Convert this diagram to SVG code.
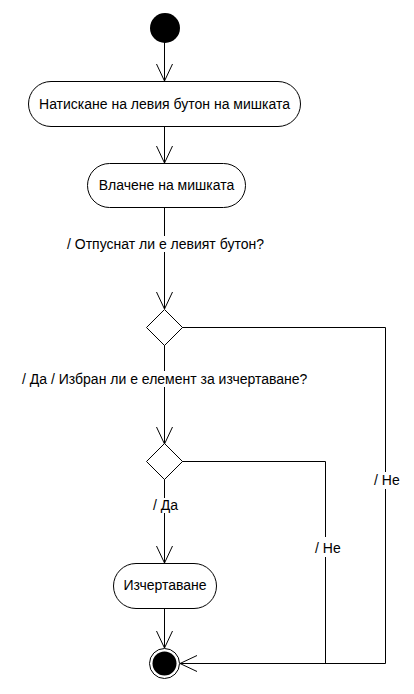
<svg xmlns="http://www.w3.org/2000/svg" width="414" height="694" viewBox="0 0 414 694">
<style>
.act{fill:#fff;stroke:#000;stroke-width:1}
.dec{fill:#fff;stroke:#000;stroke-width:1}
.ln{fill:none;stroke:#000;stroke-width:1}
text{font-family:"Liberation Sans",Arial,sans-serif;font-size:14px;fill:#000}
.lbg{fill:#fff;stroke:none}
</style>
<defs>
<marker id="arr" markerWidth="20" markerHeight="20" viewBox="-18 -10 20 20" refX="0" refY="0" orient="auto" markerUnits="userSpaceOnUse">
<path d="M-17,-8 L0,0 L-17,8" fill="none" stroke="#000" stroke-width="1"/>
</marker>
</defs>
<g id="connectors">
<line class="ln" x1="164.5" y1="42" x2="164.5" y2="81" marker-end="url(#arr)"/>
<line class="ln" x1="164.5" y1="127" x2="164.5" y2="163" marker-end="url(#arr)"/>
<line class="ln" x1="164.5" y1="208" x2="164.5" y2="309" marker-end="url(#arr)"/>
<line class="ln" x1="164.5" y1="345" x2="164.5" y2="444" marker-end="url(#arr)"/>
<line class="ln" x1="164.5" y1="479" x2="164.5" y2="563" marker-end="url(#arr)"/>
<line class="ln" x1="164.5" y1="609" x2="164.5" y2="648" marker-end="url(#arr)"/>
<polyline class="ln" points="182,327.5 385.5,327.5 385.5,663.5 180,663.5" marker-end="url(#arr)"/>
<polyline class="ln" points="182,461.5 325.5,461.5 325.5,663.5"/>
<rect class="lbg" x="66" y="236" width="199" height="16"/>
<text x="67" y="249">/ Отпуснат ли е левият бутон?</text>
<rect class="lbg" x="21" y="371" width="293" height="16"/>
<text x="22" y="384">/ Да / Избран ли е елемент за изчертаване?</text>
<rect class="lbg" x="152" y="498" width="30" height="15"/>
<text x="153" y="510">/ Да</text>
<rect class="lbg" x="373" y="472" width="29" height="17"/>
<text x="374" y="485">/ Не</text>
<rect class="lbg" x="314" y="537" width="29" height="20"/>
<text x="315" y="553">/ Не</text>
</g>
<g id="start">
<circle cx="165" cy="28" r="15" fill="#000"/>
</g>
<g id="action1">
<rect class="act" x="28.5" y="81.5" width="272" height="45" rx="22.5"/>
<text x="164.5" y="109" text-anchor="middle">Натискане на левия бутон на мишката</text>
</g>
<g id="action2">
<rect class="act" x="87.5" y="163.5" width="158" height="44" rx="22"/>
<text x="166.5" y="190" text-anchor="middle">Влачене на мишката</text>
</g>
<g id="decision1">
<polygon class="dec" points="164.5,309.5 182.5,327.5 164.5,345.5 146.5,327.5"/>
</g>
<g id="decision2">
<polygon class="dec" points="164.5,443.5 182.5,461.5 164.5,479.5 146.5,461.5"/>
</g>
<g id="action3">
<rect class="act" x="113.5" y="563.5" width="103" height="45" rx="22.5"/>
<text x="165" y="590" text-anchor="middle">Изчертаване</text>
</g>
<g id="end">
<circle cx="164.5" cy="663.5" r="15" fill="#fff" stroke="#000" stroke-width="1"/>
<circle cx="164.5" cy="663.5" r="12" fill="#000"/>
</g>
</svg>
